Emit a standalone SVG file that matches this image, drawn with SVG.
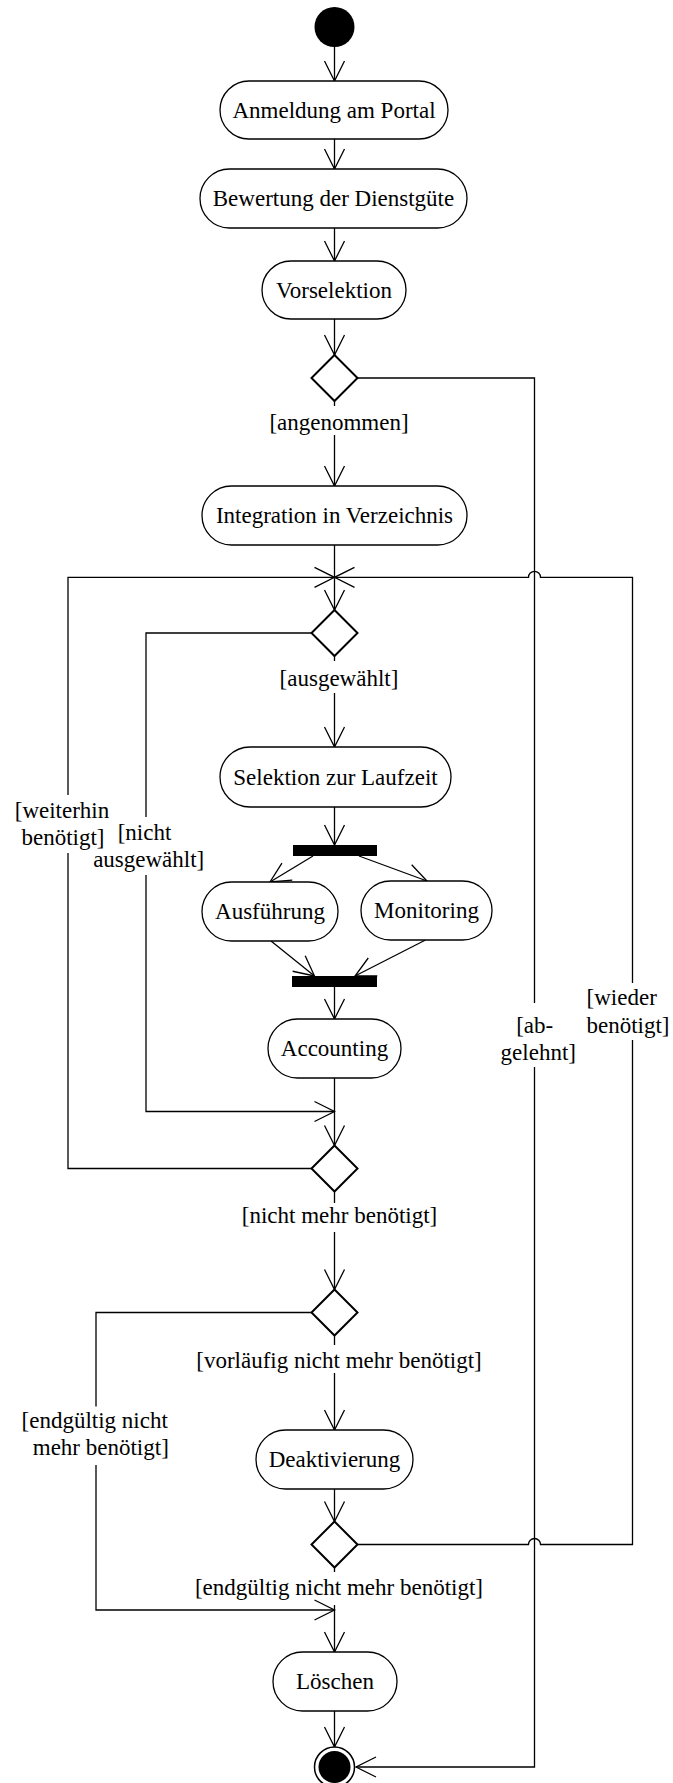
<svg xmlns="http://www.w3.org/2000/svg" width="673" height="1783" viewBox="0 0 673 1783">
<style>
.n{fill:#fff;stroke:#000;stroke-width:1.3}
.d{fill:#fff;stroke:#000;stroke-width:2}
.t{font-family:"Liberation Serif","Times New Roman",serif;font-size:23px;fill:#000;text-anchor:middle}
.c{fill:none;stroke:#000;stroke-width:1.3}
.bar{fill:#000}
</style>
<defs>
<marker id="arr" viewBox="-22 -12 24 24" refX="0" refY="0" markerWidth="24" markerHeight="24" markerUnits="userSpaceOnUse" orient="auto" overflow="visible">
<path d="M -20 -10 L 0 0 L -20 10" fill="none" stroke="#000" stroke-width="1.3"/>
</marker>
</defs>
<rect width="673" height="1783" fill="#fff"/>
<g id="connectors">
<path class="c" d="M 334.5 47 V 81" marker-end="url(#arr)"/>
<path class="c" d="M 334.5 139 V 169" marker-end="url(#arr)"/>
<path class="c" d="M 334.5 228 V 261" marker-end="url(#arr)"/>
<path class="c" d="M 334.5 319 V 355" marker-end="url(#arr)"/>
<path class="c" d="M 334.5 401 V 406 M 334.5 435 V 486" marker-end="url(#arr)"/>
<path class="c" d="M 357.5 378 H 534.5 V 1003 M 534.5 1067 V 1767 H 356" marker-end="url(#arr)"/>
<path class="c" d="M 334.5 545 V 610" marker-end="url(#arr)"/>
<path class="c" d="M 311.5 1168.5 H 68 V 853 M 68 795 V 577.3 H 334.5" marker-end="url(#arr)"/>
<path class="c" d="M 357.5 1544.5 H 528.5 A 6 6 0 0 1 540.5 1544.5 H 632.5 V 1040 M 632.5 983 V 577.3 H 540.5 A 6 6 0 0 0 528.5 577.3 H 334.5" marker-end="url(#arr)"/>
<path class="c" d="M 311.5 633 H 146 V 817 M 146 875 V 1111.5 H 334.5" marker-end="url(#arr)"/>
<path class="c" d="M 334.5 656 V 661 M 334.5 693 V 747" marker-end="url(#arr)"/>
<path class="c" d="M 334.5 807 V 845" marker-end="url(#arr)"/>
<path class="c" d="M 313 856 L 270 882" marker-end="url(#arr)"/>
<path class="c" d="M 359 856 L 427 881" marker-end="url(#arr)"/>
<path class="c" d="M 271 941 L 314.5 976" marker-end="url(#arr)"/>
<path class="c" d="M 425.5 940 L 355 976" marker-end="url(#arr)"/>
<path class="c" d="M 334.5 987 V 1019" marker-end="url(#arr)"/>
<path class="c" d="M 334.5 1078 V 1145.5" marker-end="url(#arr)"/>
<path class="c" d="M 334.5 1191.5 V 1203 M 334.5 1232 V 1289.5" marker-end="url(#arr)"/>
<path class="c" d="M 311.5 1312.5 H 96 V 1406.5 M 96 1465 V 1610 H 334.5" marker-end="url(#arr)"/>
<path class="c" d="M 334.5 1335.5 V 1345 M 334.5 1373 V 1430" marker-end="url(#arr)"/>
<path class="c" d="M 334.5 1489 V 1521.5" marker-end="url(#arr)"/>
<path class="c" d="M 334.5 1567.5 V 1572 M 334.5 1605 V 1652" marker-end="url(#arr)"/>
<path class="c" d="M 334.5 1711 V 1747" marker-end="url(#arr)"/>
</g>
<g id="labels">
<text class="t" x="339" y="430">[angenommen]</text>
<text class="t" x="339" y="686">[ausgewählt]</text>
<text class="t" x="339.5" y="1223">[nicht mehr benötigt]</text>
<text class="t" x="339" y="1368">[vorläufig nicht mehr benötigt]</text>
<text class="t" x="339" y="1595">[endgültig nicht mehr benötigt]</text>
<text class="t" x="62" y="818">[weiterhin</text>
<text class="t" x="63" y="845">benötigt]</text>
<text class="t" x="144.5" y="840">[nicht</text>
<text class="t" x="148.7" y="867">ausgewählt]</text>
<text class="t" x="94.7" y="1428">[endgültig nicht</text>
<text class="t" x="100.8" y="1455">mehr benötigt]</text>
<text class="t" x="534.7" y="1033">[ab-</text>
<text class="t" x="538.3" y="1060">gelehnt]</text>
<text class="t" x="621.7" y="1005">[wieder</text>
<text class="t" x="628" y="1033">benötigt]</text>
</g>
<g id="start"><circle cx="334.5" cy="27" r="20" fill="#000"/></g>
<g id="n1"><rect class="n" x="220" y="81" width="228" height="58" rx="29"/><text class="t" x="334" y="117.5">Anmeldung am Portal</text></g>
<g id="n2"><rect class="n" x="200" y="169" width="267" height="59" rx="29.5"/><text class="t" x="333.5" y="206">Bewertung der Dienstgüte</text></g>
<g id="n3"><rect class="n" x="262" y="261" width="144" height="58" rx="29"/><text class="t" x="334" y="297.5">Vorselektion</text></g>
<g id="d1"><polygon class="d" points="334.5,355 357.5,378 334.5,401 311.5,378"/></g>
<g id="n4"><rect class="n" x="202" y="486" width="265" height="59" rx="29.5"/><text class="t" x="334.5" y="523">Integration in Verzeichnis</text></g>
<g id="d2"><polygon class="d" points="334.5,610 357.5,633 334.5,656 311.5,633"/></g>
<g id="n5"><rect class="n" x="220" y="747" width="231" height="60" rx="30"/><text class="t" x="335.5" y="784.5">Selektion zur Laufzeit</text></g>
<g id="fork"><rect class="bar" x="293" y="845" width="84" height="11"/></g>
<g id="n6"><rect class="n" x="202" y="882" width="136" height="59" rx="29.5"/><text class="t" x="270" y="919">Ausführung</text></g>
<g id="n7"><rect class="n" x="361" y="881" width="131" height="59" rx="29.5"/><text class="t" x="426.5" y="918">Monitoring</text></g>
<g id="join"><rect class="bar" x="292" y="976" width="85" height="11"/></g>
<g id="n8"><rect class="n" x="268" y="1019" width="133" height="59" rx="29.5"/><text class="t" x="334.5" y="1056">Accounting</text></g>
<g id="d3"><polygon class="d" points="334.5,1145.5 357.5,1168.5 334.5,1191.5 311.5,1168.5"/></g>
<g id="d4"><polygon class="d" points="334.5,1289.5 357.5,1312.5 334.5,1335.5 311.5,1312.5"/></g>
<g id="n9"><rect class="n" x="256" y="1430" width="157" height="59" rx="29.5"/><text class="t" x="334.5" y="1467">Deaktivierung</text></g>
<g id="d5"><polygon class="d" points="334.5,1521.5 357.5,1544.5 334.5,1567.5 311.5,1544.5"/></g>
<g id="n10"><rect class="n" x="273" y="1652" width="124" height="59" rx="29.5"/><text class="t" x="335" y="1689">Löschen</text></g>
<g id="final"><circle cx="334.5" cy="1767" r="20" fill="#fff" stroke="#000" stroke-width="1.5"/><circle cx="334.5" cy="1767" r="16" fill="#000"/></g>
</svg>
